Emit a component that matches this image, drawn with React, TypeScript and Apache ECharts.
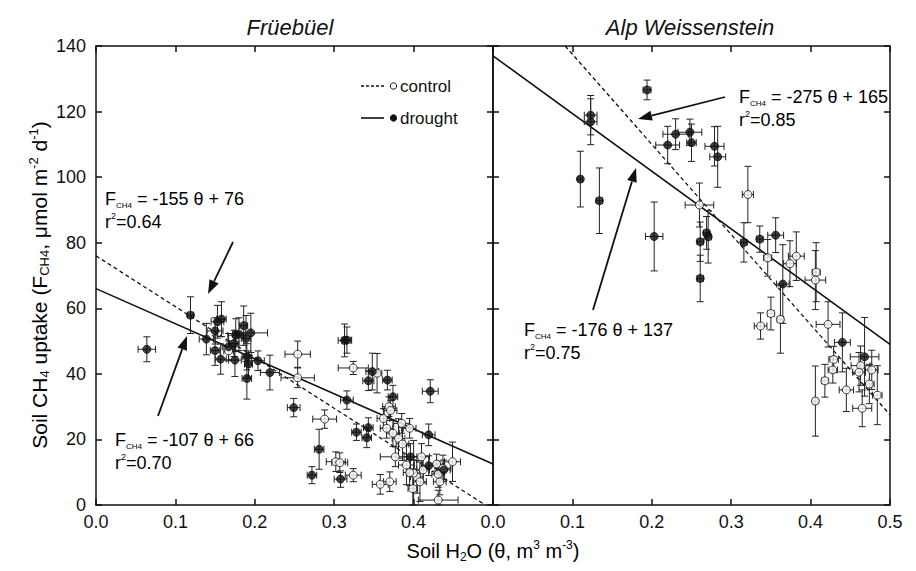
import React, { useEffect, useRef } from 'react';
import * as echarts from 'echarts';

// [theta, flux, thetaErr, fluxErr]
const fruebuelDrought: number[][] = [
  [0.064, 47.5, 0.011, 3.8], [0.119, 57.9, 0.004, 5.6], [0.139, 50.6, 0.009, 4.8],
  [0.150, 47.1, 0.006, 4.5], [0.157, 44.5, 0.007, 4.6], [0.150, 53.1, 0.010, 4.0],
  [0.153, 55.9, 0.008, 5.0], [0.158, 56.7, 0.006, 5.3], [0.167, 48.3, 0.008, 4.0],
  [0.174, 49.3, 0.006, 4.0], [0.176, 51.8, 0.010, 5.0], [0.180, 52.1, 0.008, 5.0],
  [0.186, 54.7, 0.005, 6.0], [0.189, 50.8, 0.006, 7.0], [0.195, 52.5, 0.021, 6.0],
  [0.175, 44.2, 0.008, 5.0], [0.190, 45.2, 0.006, 4.0], [0.192, 43.0, 0.005, 4.0],
  [0.204, 44.0, 0.008, 3.0], [0.190, 38.6, 0.006, 6.3], [0.219, 40.4, 0.012, 5.3],
  [0.249, 29.7, 0.008, 2.8], [0.281, 17.0, 0.006, 6.1], [0.272, 9.1, 0.006, 2.6],
  [0.308, 7.9, 0.008, 2.5], [0.313, 50.2, 0.008, 5.0], [0.316, 50.3, 0.006, 4.0],
  [0.316, 32.0, 0.008, 2.8], [0.348, 40.7, 0.008, 5.6], [0.343, 37.9, 0.007, 3.0],
  [0.367, 38.1, 0.006, 3.0], [0.374, 33.0, 0.006, 3.5], [0.421, 34.7, 0.010, 3.5],
  [0.419, 21.4, 0.008, 3.3], [0.328, 22.2, 0.006, 2.5], [0.343, 23.6, 0.006, 3.0],
  [0.341, 20.5, 0.006, 3.0], [0.396, 14.7, 0.008, 4.0], [0.419, 12.0, 0.008, 3.0],
  [0.438, 10.7, 0.008, 3.0],
];
const fruebuelControl: number[][] = [
  [0.167, 47.0, 0.006, 3.0], [0.254, 46.0, 0.016, 4.0], [0.254, 38.8, 0.021, 3.0],
  [0.288, 26.2, 0.015, 2.8], [0.302, 13.2, 0.012, 3.0], [0.307, 12.9, 0.010, 3.0],
  [0.324, 9.1, 0.010, 2.0], [0.324, 41.8, 0.019, 2.0], [0.354, 40.2, 0.006, 6.0],
  [0.362, 26.4, 0.008, 3.0], [0.366, 23.4, 0.008, 3.0], [0.374, 21.9, 0.008, 4.0],
  [0.369, 30.0, 0.008, 3.0], [0.371, 28.8, 0.008, 3.0], [0.385, 24.9, 0.010, 3.0],
  [0.395, 23.4, 0.008, 3.0], [0.381, 20.3, 0.008, 6.0], [0.386, 18.6, 0.008, 5.0],
  [0.377, 14.7, 0.019, 3.0], [0.391, 12.2, 0.010, 6.0], [0.410, 14.7, 0.010, 4.0],
  [0.429, 12.5, 0.010, 3.0], [0.437, 11.2, 0.010, 4.0], [0.449, 13.2, 0.010, 6.0],
  [0.412, 10.7, 0.008, 4.0], [0.404, 8.6, 0.008, 5.0], [0.408, 7.1, 0.008, 6.0],
  [0.400, 9.7, 0.008, 10.0], [0.433, 7.1, 0.008, 4.0], [0.431, 1.5, 0.025, 3.0],
  [0.358, 6.3, 0.010, 3.0], [0.370, 7.1, 0.008, 3.0], [0.395, 9.9, 0.008, 4.0],
  [0.431, 9.4, 0.008, 4.0], [0.399, 5.0, 0.006, 6.0],
];
const alpDrought: number[][] = [
  [0.194, 126.6, 0.005, 3.0], [0.123, 118.9, 0.008, 6.0], [0.123, 116.9, 0.008, 7.0],
  [0.110, 99.4, 0.003, 8.5], [0.134, 92.8, 0.004, 10.0], [0.203, 81.9, 0.011, 10.5],
  [0.220, 109.8, 0.015, 5.7], [0.230, 113.1, 0.016, 4.7], [0.248, 113.7, 0.015, 4.0],
  [0.250, 110.5, 0.006, 5.7], [0.279, 109.4, 0.012, 6.0], [0.283, 106.2, 0.010, 9.3],
  [0.269, 83.0, 0.004, 5.0], [0.271, 81.8, 0.004, 8.0], [0.261, 80.3, 0.004, 6.0],
  [0.261, 69.1, 0.004, 7.1], [0.316, 80.1, 0.004, 6.0], [0.336, 81.1, 0.004, 4.0],
  [0.356, 82.3, 0.010, 5.3], [0.365, 67.4, 0.008, 12.0], [0.440, 49.6, 0.010, 9.0],
  [0.468, 45.2, 0.018, 12.0],
];
const alpControl: number[][] = [
  [0.260, 91.5, 0.018, 6.7], [0.321, 94.7, 0.007, 8.6], [0.346, 75.4, 0.005, 5.6],
  [0.374, 73.6, 0.008, 7.0], [0.382, 75.9, 0.010, 7.4], [0.407, 71.0, 0.005, 9.0],
  [0.406, 68.6, 0.013, 9.0], [0.350, 58.4, 0.004, 5.0], [0.362, 56.6, 0.004, 10.3],
  [0.337, 54.6, 0.008, 4.0], [0.422, 55.1, 0.015, 6.9], [0.429, 44.4, 0.006, 4.0],
  [0.428, 41.2, 0.006, 4.0], [0.463, 42.5, 0.012, 6.0], [0.461, 40.5, 0.008, 6.0],
  [0.477, 41.2, 0.008, 6.0], [0.418, 37.9, 0.004, 5.0], [0.445, 35.1, 0.009, 6.6],
  [0.474, 36.9, 0.006, 6.0], [0.484, 33.5, 0.006, 9.0], [0.406, 31.7, 0.003, 10.7],
  [0.465, 29.5, 0.012, 5.6],
];

// regression fits [slope, intercept, r2]
const fruebuelControlFit = [-155, 76, 0.64];
const fruebuelDroughtFit = [-107, 66, 0.70];
const alpControlFit = [-275, 165, 0.85];
const alpDroughtFit = [-176, 137, 0.75];

const panelTitles = ['Früebüel', 'Alp Weissenstein'];
const legendLabels = ['control', 'drought'];
const X_MIN = 0, X_MAX = 0.5, Y_MIN = 0, Y_MAX = 140;

const FONT = 'Liberation Sans, Arial, Helvetica, sans-serif';
const INK = '#111';

function fitLine(fit: number[]) {
  const [m, b] = fit;
  let x0 = X_MIN, x1 = X_MAX;
  const yAt = (x: number) => m * x + b;
  if (yAt(x0) > Y_MAX) x0 = (Y_MAX - b) / m;
  if (yAt(x1) < Y_MIN) x1 = (Y_MIN - b) / m;
  return [[x0, yAt(x0)], [x1, yAt(x1)]];
}

function errorBars(data: number[][], axis: number) {
  return {
    type: 'custom',
    xAxisIndex: axis * 2,
    yAxisIndex: axis * 2,
    data,
    silent: true,
    z: 2,
    encode: { x: 0, y: 1 },
    renderItem: (_p: any, api: any) => {
      const x = api.value(0), y = api.value(1), ex = api.value(2), ey = api.value(3);
      const c = api.coord([x, y]);
      const l = api.coord([x - ex, y]);
      const r = api.coord([x + ex, y]);
      const t = api.coord([x, Math.min(y + ey, Y_MAX)]);
      const b = api.coord([x, Math.max(y - ey, Y_MIN)]);
      const cap = 3.5;
      const style = { stroke: '#222', lineWidth: 1 };
      const ln = (x1: number, y1: number, x2: number, y2: number) => ({
        type: 'line', shape: { x1, y1, x2, y2 }, style,
      });
      return {
        type: 'group',
        children: [
          ln(l[0], c[1], r[0], c[1]),
          ln(l[0], c[1] - cap, l[0], c[1] + cap),
          ln(r[0], c[1] - cap, r[0], c[1] + cap),
          ln(c[0], t[1], c[0], b[1]),
          ln(c[0] - cap, t[1], c[0] + cap, t[1]),
          ln(c[0] - cap, b[1], c[0] + cap, b[1]),
        ],
      };
    },
  };
}

function points(data: number[][], axis: number, filled: boolean) {
  return {
    type: 'scatter',
    xAxisIndex: axis * 2,
    yAxisIndex: axis * 2,
    data: data.map((d) => [d[0], d[1]]),
    symbol: 'circle',
    symbolSize: 8,
    z: 3,
    itemStyle: filled
      ? { color: INK, borderColor: INK, borderWidth: 1 }
      : { color: '#fff', borderColor: INK, borderWidth: 1 },
  };
}

function regLine(fit: number[], axis: number, dashed: boolean) {
  return {
    type: 'line',
    xAxisIndex: axis * 2,
    yAxisIndex: axis * 2,
    data: fitLine(fit),
    symbol: 'none',
    z: 1,
    lineStyle: { color: INK, width: dashed ? 1.3 : 1.6, type: dashed ? [4, 3] : 'solid' },
  };
}

const rich = {
  n: { fontSize: 18, fontFamily: FONT, color: INK, lineHeight: 21 },
  s: { fontSize: 8, fontFamily: FONT, color: INK, lineHeight: 8, verticalAlign: 'bottom' },
  p: { fontSize: 9, fontFamily: FONT, color: INK, lineHeight: 10, verticalAlign: 'top' },
};
const richBig = {
  n: { fontSize: 21, fontFamily: FONT, color: INK, lineHeight: 24 },
  s: { fontSize: 13, fontFamily: FONT, color: INK, lineHeight: 12, verticalAlign: 'bottom' },
  p: { fontSize: 13, fontFamily: FONT, color: INK, lineHeight: 12, verticalAlign: 'top' },
};

function eqText(fit: number[], x: number, y: number) {
  const [m, b, r2] = fit;
  return [
    {
      type: 'text', x, y,
      style: {
        text: `{n|F}{s|CH4}{n| = ${m} θ + ${b}}`,
        rich, align: 'left', verticalAlign: 'middle',
      },
    },
    {
      type: 'text', x, y: y + 23,
      style: {
        text: `{n|r}{p|2}{n|=${r2.toFixed(2)}}`,
        rich, align: 'left', verticalAlign: 'middle',
      },
    },
  ];
}

function arrow(x1: number, y1: number, x2: number, y2: number) {
  const ang = Math.atan2(y2 - y1, x2 - x1);
  const L = 14, W = 5;
  const bx = x2 - L * Math.cos(ang), by = y2 - L * Math.sin(ang);
  const px = -Math.sin(ang) * W, py = Math.cos(ang) * W;
  return [
    { type: 'line', shape: { x1, y1, x2: bx, y2: by }, style: { stroke: INK, lineWidth: 1.8 } },
    {
      type: 'polygon',
      shape: { points: [[x2, y2], [bx + px, by + py], [bx - px, by - py]] },
      style: { fill: INK },
    },
  ];
}

export default function App() {
  const ref = useRef<HTMLDivElement>(null);
  useEffect(() => {
    if (!ref.current) return;
    const chart = echarts.init(ref.current, null, { renderer: 'svg' });
    const axisLine = { onZero: false, lineStyle: { color: INK, width: 1.5 } };
    const axisTick = { inside: true, length: 6, lineStyle: { color: INK, width: 1.5 } };
    const label = { fontSize: 18, fontFamily: FONT, color: INK };
    const xAx = (grid: number, pos: string, show: boolean, showMax: boolean) => ({
      type: 'value', gridIndex: grid, position: pos, min: X_MIN, max: X_MAX, interval: 0.1,
      axisLine, axisTick, splitLine: { show: false },
      axisLabel: show
        ? { ...label, margin: 8, showMaxLabel: showMax, formatter: (v: number) => v.toFixed(1) }
        : { show: false },
    });
    const yAx = (grid: number, pos: string, show: boolean) => ({
      type: 'value', gridIndex: grid, position: pos, min: Y_MIN, max: Y_MAX, interval: 20,
      axisLine, axisTick, splitLine: { show: false },
      axisLabel: show ? { ...label, margin: 10 } : { show: false },
    });

    const option: any = {
      animation: false,
      backgroundColor: '#fff',
      grid: [
        { left: 96, top: 46, width: 397, height: 459 },
        { left: 493, top: 46, width: 397, height: 459 },
      ],
      xAxis: [
        xAx(0, 'bottom', true, false), xAx(0, 'top', false, false),
        xAx(1, 'bottom', true, true), xAx(1, 'top', false, false),
      ],
      yAxis: [
        yAx(0, 'left', true), yAx(0, 'right', false),
        yAx(1, 'left', false), yAx(1, 'right', false),
      ],
      series: [
        regLine(fruebuelControlFit, 0, true),
        regLine(fruebuelDroughtFit, 0, false),
        regLine(alpControlFit, 1, true),
        regLine(alpDroughtFit, 1, false),
        errorBars(fruebuelControl, 0),
        errorBars(fruebuelDrought, 0),
        errorBars(alpControl, 1),
        errorBars(alpDrought, 1),
        points(fruebuelControl, 0, false),
        points(fruebuelDrought, 0, true),
        points(alpControl, 1, false),
        points(alpDrought, 1, true),
      ],
      graphic: [
        {
          type: 'text', x: 290, y: 27,
          style: { text: panelTitles[0], fontSize: 22, fontStyle: 'italic', fontFamily: FONT, fill: INK, align: 'center', verticalAlign: 'middle' },
        },
        {
          type: 'text', x: 690, y: 27,
          style: { text: panelTitles[1], fontSize: 22, fontStyle: 'italic', fontFamily: FONT, fill: INK, align: 'center', verticalAlign: 'middle' },
        },
        {
          type: 'text', x: 39, y: 285, rotation: Math.PI / 2,
          style: {
            text: '{n|Soil CH}{s|4}{n| uptake (F}{s|CH4}{n|, μmol m}{p|-2}{n| d}{p|-1}{n|)}',
            rich: richBig, align: 'center', verticalAlign: 'middle',
          },
        },
        {
          type: 'text', x: 493, y: 551,
          style: {
            text: '{n|Soil H}{s|2}{n|O (θ, m}{p|3}{n| m}{p|-3}{n|)}',
            rich: { ...richBig, n: { ...richBig.n, fontSize: 20 }, s: { ...richBig.s, fontSize: 12 }, p: { ...richBig.p, fontSize: 12 } },
            align: 'center', verticalAlign: 'middle',
          },
        },
        // legend
        { type: 'line', shape: { x1: 361, y1: 86, x2: 384, y2: 86 }, style: { stroke: INK, lineWidth: 1.3, lineDash: [3, 2] } },
        { type: 'circle', shape: { cx: 393.5, cy: 86, r: 3.2 }, style: { fill: '#fff', stroke: INK, lineWidth: 1 } },
        { type: 'text', x: 400, y: 86, style: { text: legendLabels[0], fontSize: 17, fontFamily: FONT, fill: INK, align: 'left', verticalAlign: 'middle' } },
        { type: 'line', shape: { x1: 361, y1: 118, x2: 384, y2: 118 }, style: { stroke: INK, lineWidth: 1.6 } },
        { type: 'circle', shape: { cx: 393.5, cy: 118, r: 3.6 }, style: { fill: INK } },
        { type: 'text', x: 400, y: 118, style: { text: legendLabels[1], fontSize: 17, fontFamily: FONT, fill: INK, align: 'left', verticalAlign: 'middle' } },
        // equations
        ...eqText(fruebuelControlFit, 105, 199),
        ...eqText(fruebuelDroughtFit, 115, 440),
        ...eqText(alpControlFit, 739, 97),
        ...eqText(alpDroughtFit, 524, 330),
        ...arrow(233, 242, 208, 294),
        ...arrow(158, 416, 187, 336),
        ...arrow(725, 97, 638, 119),
        ...arrow(593, 310, 636, 168),
      ],
    };
    chart.setOption(option);
    return () => chart.dispose();
  }, []);
  return (
    <div
      ref={ref}
      style={{ position: 'fixed', left: 0, top: 0, width: 916, height: 571, background: '#fff' }}
    />
  );
}
